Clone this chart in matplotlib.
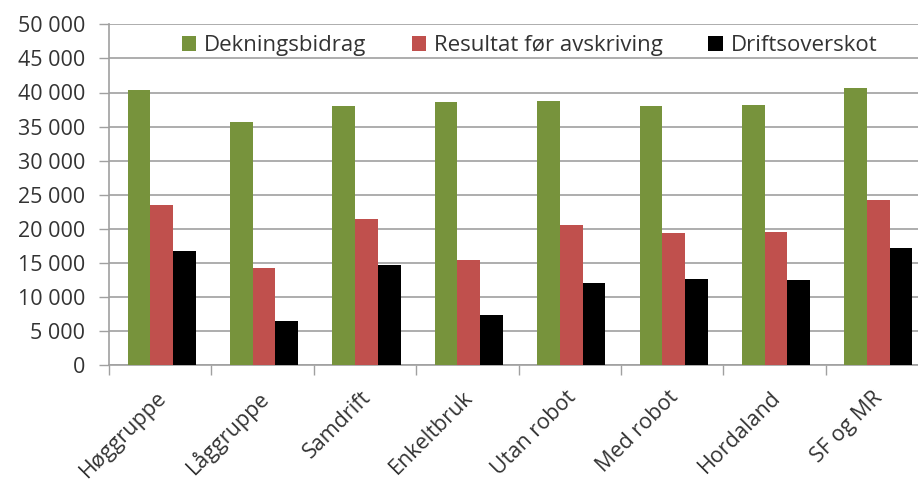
import numpy as np
import matplotlib.pyplot as plt
from matplotlib.ticker import FuncFormatter

# categories and series
categories = ["Høggruppe", "Låggruppe", "Samdrift", "Enkeltbruk",
              "Utan robot", "Med robot", "Hordaland", "SF og MR"]
dekningsbidrag = [40300, 35700, 38000, 38600, 38750, 38000, 38200, 40600]
resultat = [23500, 14300, 21450, 15450, 20500, 19400, 19550, 24300]
driftsoverskot = [16800, 6450, 14700, 7400, 12100, 12650, 12450, 17150]
series_names = ["Dekningsbidrag", "Resultat før avskriving", "Driftsoverskot"]
colors = ["#77933C", "#C0504D", "#000000"]

plt.rcParams['font.family'] = ['Open Sans', 'DejaVu Sans']
txt_color = '#333333'

fig = plt.figure(figsize=(9.18, 4.79), dpi=100)
ax = fig.add_axes([109/918, 1 - 365.3/479, (928 - 109)/918, (365.3 - 24.3)/479])

x = np.arange(len(categories))
w = 0.222
for k, vals in enumerate([dekningsbidrag, resultat, driftsoverskot]):
    ax.bar(x + (k - 1) * w + 0.015, vals, width=w, color=colors[k],
           label=series_names[k], zorder=3)

ax.set_xlim(-0.5, len(categories) - 0.5)
ax.set_ylim(0, 50000)
ax.set_yticks(np.arange(0, 50001, 5000))
ax.yaxis.set_major_formatter(FuncFormatter(lambda v, p: f"{int(v):,}".replace(",", " ")))
ax.grid(axis='y', color='#A0A0A0', linewidth=1.2, zorder=0)

# category boundary ticks
ax.set_xticks(np.arange(-0.5, len(categories), 1.0))
ax.set_xticklabels([])
ax.tick_params(axis='x', length=7.5, color='#A0A0A0', width=1)
ax.tick_params(axis='y', length=7, color='#A0A0A0', width=1, labelsize=15.5,
               labelcolor=txt_color, pad=10)
for i, name in enumerate(categories):
    ax.annotate(name, xy=(i, 0), xycoords=('data', 'axes fraction'),
                xytext=(2, -21), textcoords='offset points',
                rotation=45, ha='right', va='center', rotation_mode='anchor',
                fontsize=15.5, color=txt_color)

for s in ['top', 'right']:
    ax.spines[s].set_visible(False)
for s in ['left', 'bottom']:
    ax.spines[s].set_color('#A0A0A0')
    ax.spines[s].set_linewidth(1.2)

leg = ax.legend(loc='upper left', bbox_to_anchor=(0.075, 1.0), ncol=3,
                frameon=False, fontsize=16, handlelength=0.65, handleheight=0.65,
                handletextpad=0.35, columnspacing=2.05, borderaxespad=0.1)
for t in leg.get_texts():
    t.set_color(txt_color)

fig.savefig("out.png", dpi=100)
